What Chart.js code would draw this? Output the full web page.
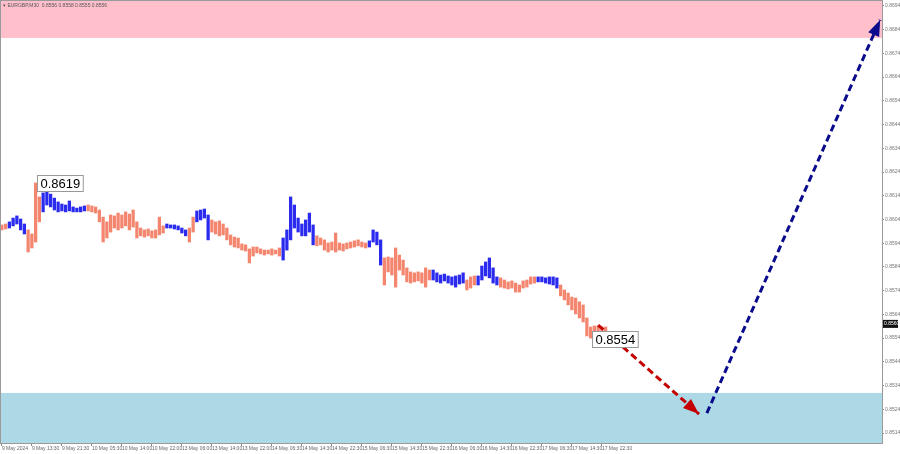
<!DOCTYPE html>
<html>
<head>
<meta charset="utf-8">
<title>EURGBP M30</title>
<script src="https://cdn.jsdelivr.net/npm/chart.js@4.4.1/dist/chart.umd.min.js"></script>
<style>
  body { margin: 0; background: #fff; }
  canvas { display: block; }
</style>
</head>
<body>
<canvas id="chart" width="900" height="454"></canvas>
<script>
// bar highs / lows, one bar per hour
const highs = [
  0.86017, 0.86021, 0.86030, 0.86046, 0.86055, 0.86042, 0.86021, 0.85996, 0.85979, 0.86194,
  0.86135, 0.86152, 0.86164, 0.86147, 0.86130, 0.86114, 0.86105, 0.86101, 0.86118, 0.86093,
  0.86088, 0.86093, 0.86097, 0.86101, 0.86097, 0.86093, 0.86080, 0.86050, 0.86030, 0.86059,
  0.86055, 0.86067, 0.86059, 0.86072, 0.86063, 0.86080, 0.86030, 0.86004, 0.85996, 0.86000,
  0.85992, 0.85996, 0.86050, 0.86013, 0.86021, 0.86017, 0.86017, 0.86013, 0.86004, 0.85996,
  0.86004, 0.86050, 0.86076, 0.86080, 0.86084, 0.86059, 0.86038, 0.86030, 0.86034, 0.86021,
  0.86004, 0.85975, 0.85966, 0.85962, 0.85937, 0.85933, 0.85916, 0.85924, 0.85924, 0.85916,
  0.85911, 0.85911, 0.85916, 0.85911, 0.85920, 0.85962, 0.85996, 0.86135, 0.86101, 0.86046,
  0.86021, 0.86038, 0.86067, 0.86017, 0.85971, 0.85962, 0.85954, 0.85941, 0.85945, 0.85983,
  0.85941, 0.85937, 0.85941, 0.85945, 0.85950, 0.85954, 0.85945, 0.85941, 0.85950, 0.85996,
  0.85987, 0.85954, 0.85878, 0.85882, 0.85878, 0.85920, 0.85890, 0.85869, 0.85836, 0.85819,
  0.85815, 0.85819, 0.85815, 0.85836, 0.85827, 0.85827, 0.85815, 0.85806, 0.85810, 0.85802,
  0.85798, 0.85802, 0.85806, 0.85815, 0.85785, 0.85798, 0.85802, 0.85802, 0.85844, 0.85861,
  0.85878, 0.85836, 0.85798, 0.85794, 0.85785, 0.85777, 0.85781, 0.85772, 0.85764, 0.85781,
  0.85785, 0.85798, 0.85798, 0.85798, 0.85798, 0.85794, 0.85798, 0.85798, 0.85794, 0.85764,
  0.85743, 0.85730, 0.85713, 0.85709, 0.85693, 0.85680, 0.85625, 0.85587, 0.85591, 0.85591,
  0.85587, 0.85587
];
const lows = [
  0.85996, 0.86000, 0.86004, 0.86013, 0.86021, 0.85996, 0.85979, 0.85903, 0.85920, 0.85945,
  0.86030, 0.86072, 0.86101, 0.86093, 0.86080, 0.86072, 0.86076, 0.86072, 0.86076, 0.86072,
  0.86072, 0.86072, 0.86076, 0.86076, 0.86072, 0.86067, 0.86030, 0.85945, 0.85962, 0.85987,
  0.86004, 0.85996, 0.86004, 0.86013, 0.85996, 0.86008, 0.85962, 0.85971, 0.85966, 0.85971,
  0.85962, 0.85962, 0.85975, 0.85983, 0.86004, 0.86004, 0.86000, 0.85996, 0.85983, 0.85971,
  0.85945, 0.85987, 0.86030, 0.86038, 0.86046, 0.85954, 0.85987, 0.85979, 0.85971, 0.85975,
  0.85954, 0.85933, 0.85924, 0.85920, 0.85911, 0.85907, 0.85857, 0.85886, 0.85899, 0.85895,
  0.85890, 0.85895, 0.85890, 0.85895, 0.85886, 0.85869, 0.85911, 0.85954, 0.86004, 0.85987,
  0.85971, 0.85971, 0.85987, 0.85933, 0.85929, 0.85933, 0.85911, 0.85903, 0.85911, 0.85903,
  0.85911, 0.85907, 0.85916, 0.85920, 0.85924, 0.85929, 0.85924, 0.85920, 0.85924, 0.85945,
  0.85933, 0.85848, 0.85764, 0.85819, 0.85806, 0.85755, 0.85827, 0.85806, 0.85777, 0.85772,
  0.85777, 0.85781, 0.85772, 0.85755, 0.85785, 0.85785, 0.85777, 0.85772, 0.85781, 0.85772,
  0.85764, 0.85755, 0.85768, 0.85772, 0.85743, 0.85751, 0.85764, 0.85764, 0.85785, 0.85802,
  0.85794, 0.85772, 0.85764, 0.85755, 0.85751, 0.85747, 0.85751, 0.85734, 0.85734, 0.85751,
  0.85755, 0.85768, 0.85772, 0.85777, 0.85777, 0.85772, 0.85768, 0.85764, 0.85751, 0.85718,
  0.85701, 0.85680, 0.85659, 0.85642, 0.85625, 0.85608, 0.85549, 0.85540, 0.85557, 0.85566,
  0.85566, 0.85570
];
// U = up bar (blue), D = down bar (salmon)
const dirs =
  "DDUUUUUDDD" + "DUUUUUUUUU" + "UUUDDDDDDD" + "DDDDDDDDDD" +
  "DDDDUUUUUU" + "DDUUUUDDDD" + "DDDDDDDDDD" + "DDDDDUUUUU" +
  "UUUUDDDDDD" + "DDDDDDDDUU" + "UUDDDDDDDD" + "DDDDDUUUUU" +
  "UUUUDDDUUU" + "UUUDDDDDDD" + "DDDUUUUUUD" + "DDDDDDDDDD" + "DD";

const xLabels = [
  "9 May 2024", "9 May 13:30", "9 May 21:30", "10 May 05:30", "10 May 14:00",
  "10 May 22:00", "13 May 06:00", "13 May 14:00", "13 May 22:00", "14 May 06:30",
  "14 May 14:30", "14 May 22:30", "15 May 06:30", "15 May 14:30", "15 May 22:30",
  "16 May 06:30", "16 May 14:30", "16 May 22:30", "17 May 06:30", "17 May 14:30",
  "17 May 22:30"
];
const yTicks = [0.8514, 0.8524, 0.8534, 0.8544, 0.8554, 0.8564, 0.8574, 0.8584, 0.8594,
  0.8604, 0.8614, 0.8624, 0.8634, 0.8644, 0.8654, 0.8664, 0.8674, 0.8684, 0.8694];

const sellZone = [0.86805, 0.86965];
const buyZone = [0.85098, 0.85309];

const redArrowX = [159, 185.9];
const redArrowY = [0.85595, 0.85220];
const blueArrowX = [188, 234.2];
const blueArrowY = [0.85224, 0.86881];

const highMark = 9;   // wave high 0.8619
const lowMark = 157;  // wave low 0.8554
const lastPrice = 0.8560;

const BLUE = '#2b2bf0';
const SALMON = '#f4866f';
const SMALL = '"Liberation Sans", Arial, sans-serif';

const bars = highs.map((h, i) => ({ x: i, y: [lows[i], h] }));

const extras = {
  id: 'extras',
  beforeDatasetsDraw(chart) {
    const { ctx, chartArea: a, scales: { y } } = chart;
    ctx.save();
    ctx.fillStyle = '#ffc0cb';
    let t = y.getPixelForValue(sellZone[1]), b = y.getPixelForValue(sellZone[0]);
    ctx.fillRect(a.left, t, a.right - a.left, b - t);
    ctx.fillStyle = '#add8e6';
    t = y.getPixelForValue(buyZone[1]); b = y.getPixelForValue(buyZone[0]);
    ctx.fillRect(a.left, t, a.right - a.left, b - t);
    ctx.restore();
  },
  afterDatasetsDraw(chart) {
    const { ctx, scales: { x, y } } = chart;
    ctx.save();
    // arrow heads
    chart.data.datasets.forEach((ds, i) => {
      if (!ds.isArrow) return;
      const pts = chart.getDatasetMeta(i).data;
      const p = pts[pts.length - 2], q = pts[pts.length - 1];
      const ang = Math.atan2(q.y - p.y, q.x - p.x);
      const c = Math.cos(ang), s = Math.sin(ang);
      const len = 16, half = 6;
      ctx.fillStyle = ds.borderColor;
      ctx.beginPath();
      ctx.moveTo(q.x, q.y);
      ctx.lineTo(q.x - len * c + half * s, q.y - len * s - half * c);
      ctx.lineTo(q.x - len * c - half * s, q.y - len * s + half * c);
      ctx.closePath();
      ctx.fill();
    });
    // wave labels
    const tag = (text, px, py) => {
      ctx.font = '13px ' + SMALL;
      const w = ctx.measureText(text).width + 6;
      const bx = Math.round(px + 1) + 0.5, by = Math.round(py - 7.5) + 0.5;
      ctx.fillStyle = '#fff';
      ctx.fillRect(bx, by, w, 16);
      ctx.strokeStyle = '#999';
      ctx.lineWidth = 1;
      ctx.strokeRect(bx, by, w, 16);
      ctx.fillStyle = '#000';
      ctx.textBaseline = 'middle';
      ctx.textAlign = 'left';
      ctx.fillText(text, bx + 3, by + 8.5);
    };
    tag(highs[highMark].toFixed(4), x.getPixelForValue(highMark), y.getPixelForValue(highs[highMark]));
    tag(lows[lowMark].toFixed(4), x.getPixelForValue(lowMark), y.getPixelForValue(lows[lowMark]));
    ctx.restore();
  },
  afterDraw(chart) {
    const { ctx, chartArea: a, scales: { y } } = chart;
    ctx.save();
    ctx.strokeStyle = '#9a9a9a';
    ctx.lineWidth = 1;
    ctx.strokeRect(a.left + 0.5, a.top + 0.5, a.right - a.left, a.bottom - a.top);
    ctx.fillStyle = '#555';
    ctx.font = '5px ' + SMALL;
    ctx.textBaseline = 'top';
    ctx.fillText('\u25BE EURGBP,M30  0.8556 0.8558 0.8555 0.8556', 3, 3);
    // current price box on the axis
    const py = y.getPixelForValue(lastPrice);
    ctx.fillStyle = '#111';
    ctx.fillRect(a.right + 1, py - 4, 15, 8);
    ctx.fillStyle = '#fff';
    ctx.textBaseline = 'middle';
    ctx.fillText(lastPrice.toFixed(4), a.right + 2, py);
    ctx.restore();
  }
};

new Chart(document.getElementById('chart'), {
  type: 'bar',
  data: {
    datasets: [
      {
        type: 'line', isArrow: true,
        data: redArrowX.map((v, i) => ({ x: v, y: redArrowY[i] })),
        borderColor: '#c40000', borderWidth: 3, borderDash: [7, 4],
        pointRadius: 0, fill: false, order: 0
      },
      {
        type: 'line', isArrow: true,
        data: blueArrowX.map((v, i) => ({ x: v, y: blueArrowY[i] })),
        borderColor: '#0a0a8c', borderWidth: 3, borderDash: [7, 4],
        pointRadius: 0, fill: false, order: 0
      },
      {
        data: bars,
        backgroundColor: dirs.split('').map(c => c === 'U' ? BLUE : SALMON),
        barThickness: 2.6, borderWidth: 0, grouped: false, order: 2
      }
    ]
  },
  options: {
    responsive: false,
    animation: false,
    layout: { padding: 0 },
    plugins: { legend: { display: false }, tooltip: { enabled: false } },
    scales: {
      x: {
        type: 'linear', position: 'bottom', min: -0.5, max: 234.7, offset: false,
        grid: { offset: false, drawOnChartArea: false, drawTicks: true, tickLength: 3, color: '#888' },
        border: { display: true, color: '#9a9a9a' },
        ticks: {
          autoSkip: false, maxRotation: 0, align: 'start', padding: 0,
          color: '#666', font: { size: 5, family: SMALL },
          callback: v => xLabels[v / 8]
        },
        afterBuildTicks: s => { s.ticks = xLabels.map((l, i) => ({ value: i * 8 })); },
        afterFit: s => { s.height = 11; s.paddingLeft = 0; s.paddingRight = 0; }
      },
      y: {
        position: 'right', min: 0.85098, max: 0.86965,
        grid: { drawOnChartArea: false, drawTicks: true, tickLength: 2, color: '#888' },
        border: { display: true, color: '#9a9a9a' },
        ticks: {
          padding: 1, color: '#777', font: { size: 5, family: SMALL },
          callback: v => v.toFixed(4)
        },
        afterBuildTicks: s => { s.ticks = yTicks.map(v => ({ value: v })); },
        afterFit: s => { s.width = 18; s.paddingTop = 0; s.paddingBottom = 0; }
      }
    }
  },
  plugins: [extras]
});
</script>
</body>
</html>
